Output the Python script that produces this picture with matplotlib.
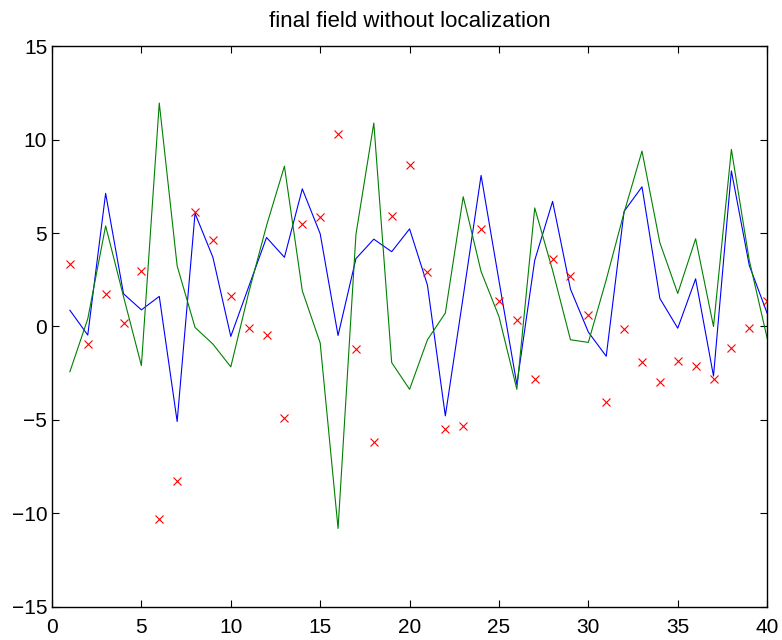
import matplotlib
matplotlib.use("Agg")
import matplotlib.pyplot as plt
import numpy as np

plt.rcParams['font.family'] = ['Liberation Sans', 'DejaVu Sans']

x = list(range(1, 41))

observations = [3.33, -0.92, 1.75, 0.17, 2.99, -10.32, -8.28, 6.14, 4.64, 1.65,
                -0.09, -0.48, -4.88, 5.47, 5.86, 10.32, -1.22, -6.18, 5.93, 8.62,
                2.92, -5.50, -5.33, 5.19, 1.37, 0.35, -2.80, 3.63, 2.71, 0.63,
                -4.05, -0.16, -1.88, -2.99, -1.86, -2.12, -2.81, -1.15, -0.07, 1.35]

analysis = [0.87, -0.46, 7.12, 1.75, 0.89, 1.61, -5.08, 6.05, 3.70, -0.53,
            2.12, 4.76, 3.70, 7.36, 4.96, -0.48, 3.63, 4.67, 4.00, 5.22,
            2.21, -4.78, 1.60, 8.08, 2.45, -3.10, 3.54, 6.69, 2.00, -0.30,
            -1.59, 6.16, 7.47, 1.50, -0.09, 2.55, -2.65, 8.32, 3.27, 0.71]

truth = [-2.42, 0.41, 5.38, 1.60, -2.09, 11.95, 3.24, -0.05, -0.94, -2.16,
         1.80, 5.40, 8.57, 1.91, -0.88, -10.80, 4.92, 10.88, -1.93, -3.36,
         -0.71, 0.72, 6.94, 2.94, 0.53, -3.36, 6.34, 3.00, -0.71, -0.85,
         2.50, 6.10, 9.38, 4.48, 1.77, 4.69, 0.00, 9.47, 3.54, -0.62]

xticks = [0, 5, 10, 15, 20, 25, 30, 35, 40]
yticks = [-15, -10, -5, 0, 5, 10, 15]
title = "final field without localization"

fig = plt.figure(figsize=(7.82, 6.4), dpi=100)
ax = fig.add_axes([0.0665, 0.0516, 0.9145, 0.8765])

ax.plot(x, analysis, color=(0, 0, 1), lw=0.8)
ax.plot(x, truth, color=(0, 0.5, 0), lw=0.8)
ax.plot(x, observations, linestyle='none', marker='x', color=(1, 0, 0),
        markersize=6, markeredgewidth=0.8)

ax.set_xlim(0, 40)
ax.set_ylim(-15, 15)
ax.set_xticks(xticks)
ax.set_yticks(yticks)
ax.set_yticklabels([str(v).replace('-', '\u2212') for v in yticks])
ax.tick_params(direction='in', length=5, width=0.8, labelsize=15,
               top=True, right=True)
ax.tick_params(axis='x', pad=8)
ax.tick_params(axis='y', pad=3.5)
for s in ax.spines.values():
    s.set_linewidth(1.0)
ax.set_title(title, fontsize=16, pad=13.5)

fig.savefig("out.png", dpi=100)
